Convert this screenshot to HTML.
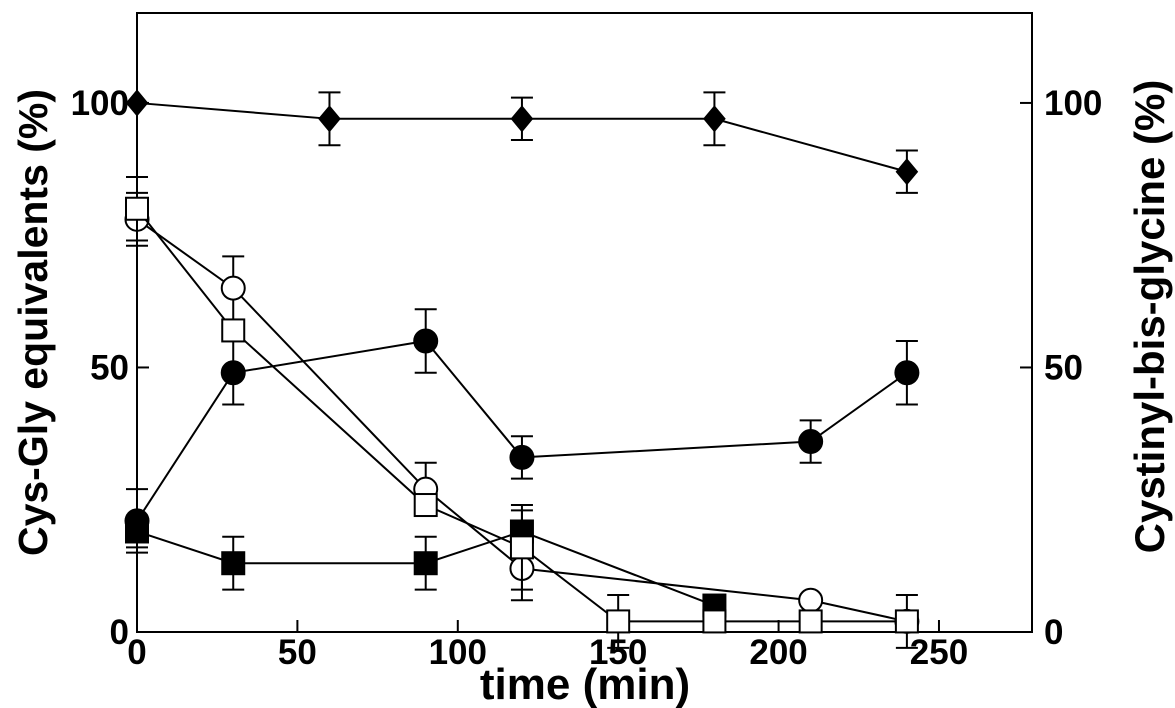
<!DOCTYPE html>
<html><head><meta charset="utf-8"><style>
html,body{margin:0;padding:0;background:#fff;}
svg{display:block;font-family:"Liberation Sans",Arial,sans-serif;font-weight:bold;}
</style></head><body>
<svg id="chart" width="1175" height="708" viewBox="0 0 1175 708">
<g id="plot"></g>
</svg>
<script>
const xTicks=[0,50,100,150,200,250];
const yTicks=[0,50,100];
const diamondX=[0,60,120,180,240];
const diamondY=[100,97,97,97,87];
const diamondErr=[0,5,4,5,4];
const fCircleX=[0,30,90,120,210,240];
const fCircleY=[21,49,55,33,36,49];
const fCircleErr=[6,6,6,4,4,6];
const oCircleX=[0,30,90,120,210,240];
const oCircleY=[78,65,27,12,6,2];
const oCircleErr=[5,6,5,6,0,0];
const oSquareX=[0,30,90,120,150,180,210,240];
const oSquareY=[80,57,24,16,2,2,2,2];
const oSquareErr=[6,0,0,8,5,0,0,5];
const fSquareX=[0,30,90,120,180];
const fSquareY=[19,13,13,19,5];
const fSquareErr=[3,5,5,4,0];

const L=137,R=1032,T=13,B=632;
const xMax=279,yMax=117;
const sx=v=>L+v*(R-L)/xMax;
const sy=v=>B-v*(B-T)/yMax;
const NS="http://www.w3.org/2000/svg";
const g=document.getElementById('plot');
function mk(tag,attrs,parent){const e=document.createElementNS(NS,tag);for(const k in attrs)e.setAttribute(k,attrs[k]);(parent||g).appendChild(e);return e;}

const frame=mk('rect',{x:L,y:T,width:R-L,height:B-T,fill:'none',stroke:'#000','stroke-width':2});



xTicks.forEach(v=>{
  const t=mk('line',{x1:sx(v),x2:sx(v),y1:B,y2:B-12,stroke:'#000','stroke-width':2});
  
  
  const l=mk('text',{x:sx(v),y:B+32,'text-anchor':'middle','font-size':35});
  l.textContent=v;
  
  
});
yTicks.forEach(v=>{
  const t=mk('line',{x1:L,x2:L+12,y1:sy(v),y2:sy(v),stroke:'#000','stroke-width':2});
  
  
  const t2=mk('line',{x1:R,x2:R-12,y1:sy(v),y2:sy(v),stroke:'#000','stroke-width':2});
  
  
  const l=mk('text',{x:L-8,y:sy(v)+12,'text-anchor':'end','font-size':35});
  l.textContent=v;
  
  
  const l2=mk('text',{x:R+12,y:sy(v)+12,'text-anchor':'start','font-size':35});
  l2.textContent=v;
  
  
});
const xt=mk('text',{x:585,y:699,'text-anchor':'middle','font-size':44});
xt.textContent='time (min)';


const yt=mk('text',{transform:`translate(47,${(T+B)/2}) rotate(-90)`,'text-anchor':'middle','font-size':41});
yt.textContent='Cys-Gly equivalents (%)';


const yt2=mk('text',{transform:`translate(1164,${(T+B)/2-6}) rotate(-90)`,'text-anchor':'middle','font-size':42});
yt2.textContent='Cystinyl-bis-glycine (%)';



function series(name,xs,ys,es,shape,filled){
  const sg=mk('g',{});
  
  
  const pts=xs.map((x,i)=>sx(x)+','+sy(ys[i])).join(' ');
  const pl=mk('polyline',{points:pts,fill:'none',stroke:'#000','stroke-width':2},sg);
  
  
  xs.forEach((x,i)=>{
    const cx=sx(x),e=es[i];
    if(e>0){
      const y1=sy(ys[i]+e),y2=sy(ys[i]-e);
      const eb=mk('path',{d:`M${cx},${y1}V${y2}M${cx-11},${y1}H${cx+11}M${cx-11},${y2}H${cx+11}`,stroke:'#000','stroke-width':2,fill:'none'},sg);
      
      
    }
  });
  xs.forEach((x,i)=>{
    const cx=sx(x),cy=sy(ys[i]);
    const f=filled?'#000':'#fff';
    let m;
    if(shape==='circle') m=mk('circle',{cx:cx,cy:cy,r:11.5,fill:f,stroke:'#000','stroke-width':2},sg);
    else if(shape==='square') m=mk('rect',{x:cx-11,y:cy-11,width:22,height:22,fill:f,stroke:'#000','stroke-width':2},sg);
    else m=mk('polygon',{points:`${cx},${cy-12} ${cx+10},${cy} ${cx},${cy+12} ${cx-10},${cy}`,fill:f,stroke:'#000','stroke-width':2},sg);
    
    
  });
}
series('filled-square-series',fSquareX,fSquareY,fSquareErr,'square',true);
series('filled-circle-series',fCircleX,fCircleY,fCircleErr,'circle',true);
series('open-circle-series',oCircleX,oCircleY,oCircleErr,'circle',false);
series('open-square-series',oSquareX,oSquareY,oSquareErr,'square',false);
series('diamond-series',diamondX,diamondY,diamondErr,'diamond',true);
</script>
</body></html>
